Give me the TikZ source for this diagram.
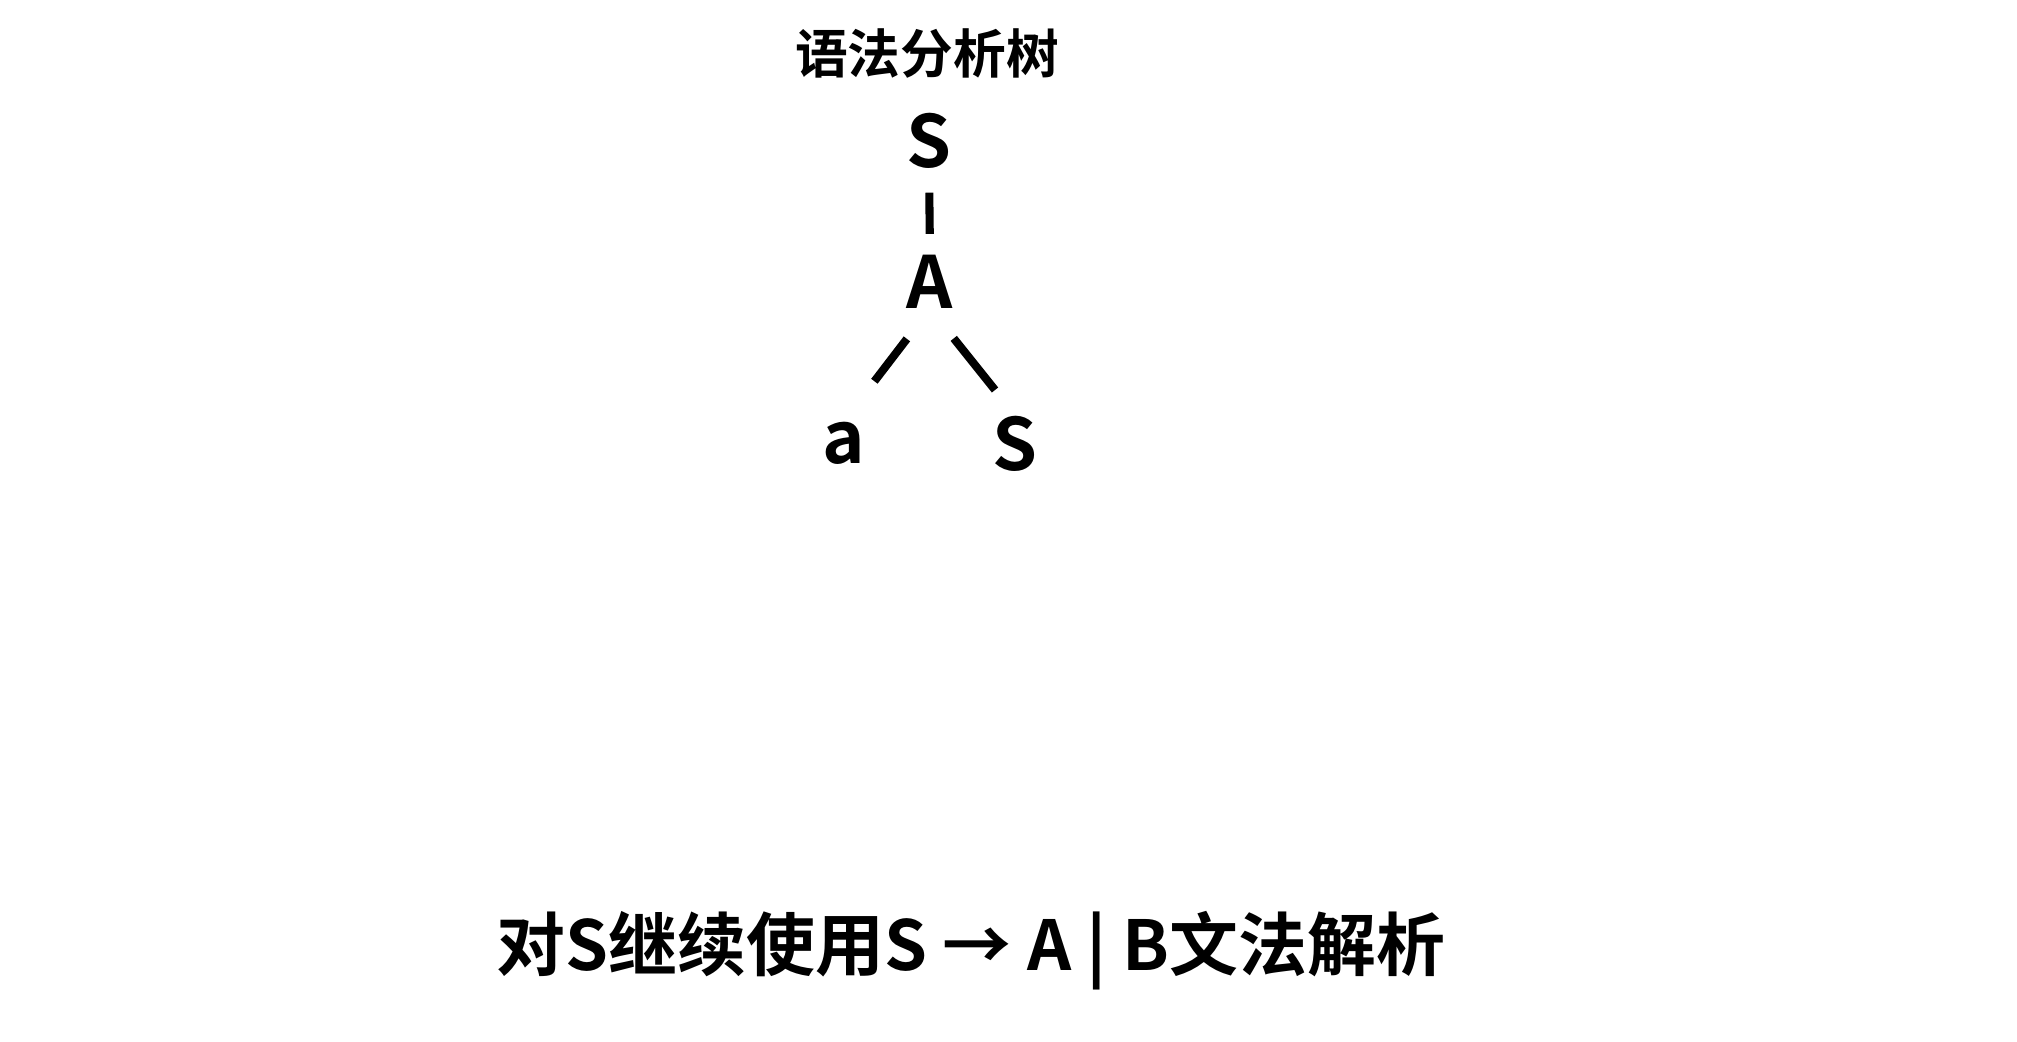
\documentclass[tikz,border=0pt]{standalone}
\usepackage{fontspec}
\setmainfont{Noto Sans CJK SC}[BoldFont={* Bold}]
\usepackage{tikz}
\usetikzlibrary{positioning,calc}

\begin{document}
\begin{tikzpicture}[
    sym/.style={inner sep=0pt, anchor=base, font=\bfseries\fontsize{20.5}{24}\selectfont},
    ttl/.style={inner sep=0pt, anchor=base, font=\bfseries\fontsize{15}{18}\selectfont},
    caption/.style={inner sep=0pt, anchor=base, font=\bfseries\fontsize{19.6}{24}\selectfont},
    branch/.style={line width=2.3pt, black}]

    % Canvas
    \fill[white] (0,0) rectangle (20.17,-10.42);
    \useasboundingbox (0,0) rectangle (20.17,-10.42);

    % Title
    \node[ttl] (title) at (9.27,-0.73) {语法分析树};

    % Tree
    \node[sym] (root) at (9.29,-1.67) {S};
    \node[sym] (A) at (9.30,-3.08) {A};
    \node[sym] (a) at (8.44,-4.63) {a};
    \node[sym] (S2) at (10.15,-4.70) {S};

    % Branches
    \draw[branch, shorten <=0.24cm, shorten >=0.20cm] (root.south) -- (A.north);
    \draw[branch, shorten <=0.38cm, shorten >=0.50cm] (A.south) -- (a.north);
    \draw[branch, shorten <=0.38cm, shorten >=0.32cm] (A.south) -- (S2.north);

    % Caption
    \node[caption] (note) at (9.71,-9.70) {对S继续使用S → A | B文法解析};
\end{tikzpicture}
\end{document}
